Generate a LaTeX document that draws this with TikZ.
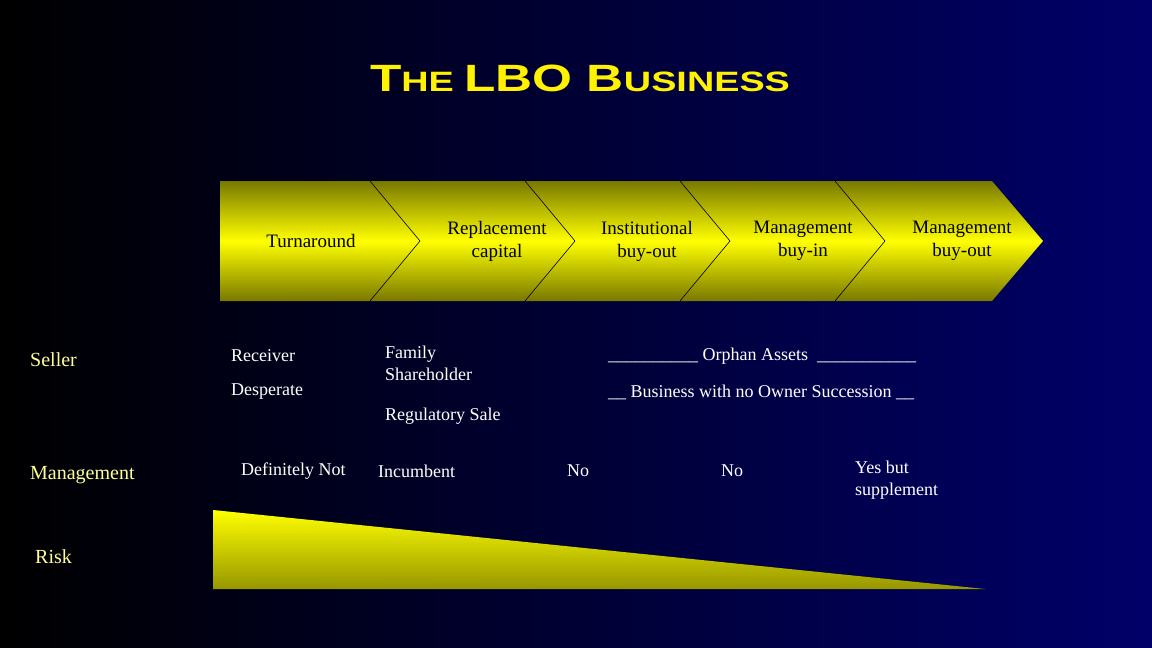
\documentclass[tikz,border=0pt]{standalone}
\usepackage{fontspec}
\setmainfont{Liberation Serif}
\definecolor{navyend}{RGB}{0,0,105}
\definecolor{olivedk}{RGB}{120,120,0}
\definecolor{olivebt}{RGB}{150,150,0}
\definecolor{sidetxt}{RGB}{255,255,150}
\begin{document}
\begin{tikzpicture}[x=1pt,y=-1pt,
  lbl/.style={anchor=west,text=white,font=\fontsize{18}{22}\selectfont,inner sep=0pt,align=left},
  side/.style={anchor=west,text=sidetxt,font=\fontsize{20}{24}\selectfont,inner sep=0pt},
  chev/.style={text=black,font=\fontsize{19}{23}\selectfont,align=center,inner sep=0pt},
  band/.style={top color=olivedk,bottom color=olivedk,middle color=yellow}]
\useasboundingbox (0,0) rectangle (1152,648);
\shade[left color=black,right color=navyend] (0,0) rectangle (1152,648);
% title
\node[text=yellow,font=\bfseries\fontspec{Liberation Sans}, xscale=1.35] (title) at (580,78)
  {\fontsize{38}{40}\selectfont T\fontsize{28}{40}\selectfont HE \fontsize{38}{40}\selectfont LBO B\fontsize{28}{40}\selectfont USINESS};
% chevron band
\shade[band] (220,181) -- (992,181) -- (1043,241) -- (992,301) -- (220,301) -- cycle;
\foreach \a in {370,525,680,835}
  \draw[black,line width=0.6pt] (\a,181) -- (\a+50,241) -- (\a,301);
\node[chev] (c1) at (311,241) {Turnaround};
\node[chev] (c2) at (497,241) {Replacement\\capital};
\node[chev] (c3) at (647,241) {Institutional\\buy-out};
\node[chev] (c4) at (803,241) {Management\\buy-in};
\node[chev] (c5) at (962,241) {Management\\buy-out};
% rows
\node[side] (seller) at (30,360) {Seller};
\node[side] (mgmt) at (30,475) {Management};
\node[side] (risk) at (35,557) {Risk};
\node[lbl] (r1) at (231,356) {Receiver};
\node[lbl] (r2) at (231,392) {Desperate};
\node[lbl,anchor=north west] (r3) at (385,346) {Family\\Shareholder};
\node[lbl] (r4) at (385,416) {Regulatory Sale};
\node[lbl] (r5) at (608,356) {\_\_\_\_\_\_\_\_\_\_ Orphan Assets\ \ \_\_\_\_\_\_\_\_\_\_\_};
\node[lbl] (r6) at (608,392) {\_\_ Business with no Owner Succession \_\_};
\node[lbl] (m1) at (241,471) {Definitely Not};
\node[lbl] (m2) at (378,471) {Incumbent};
\node[lbl] (m3) at (567,471) {No};
\node[lbl] (m4) at (721,471) {No};
\node[lbl,anchor=north west] (m5) at (855,461) {Yes but\\supplement};
% risk wedge
\shade[top color=yellow,bottom color=olivebt] (213,510) -- (985,589) -- (213,589) -- cycle;
\end{tikzpicture}
\end{document}
